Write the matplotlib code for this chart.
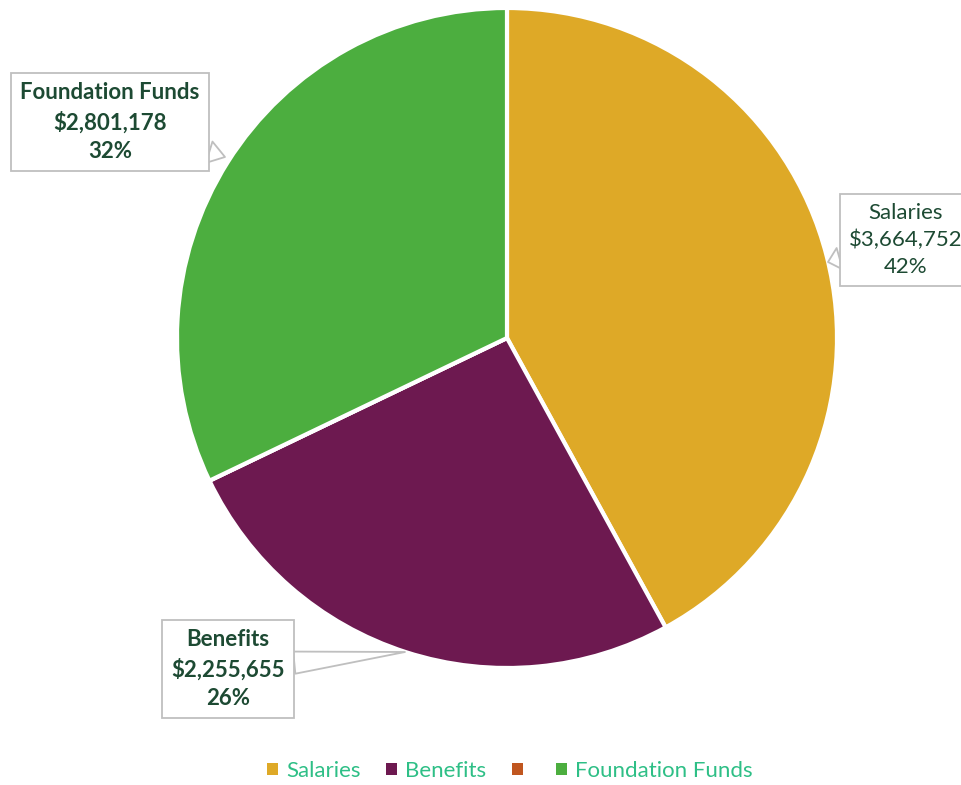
import matplotlib.pyplot as plt
from matplotlib.patches import Patch

# data
categories = ["Salaries", "Benefits", "", "Foundation Funds"]
amounts = [3664752, 2255655, 0, 2801178]
pcts = ["42%", "26%", "", "32%"]
colors = ["#DEA927", "#6D1950", "#C0561F", "#4CAE3F"]

W, H = 961, 785
plt.rcParams['font.family'] = ['Lato', 'DejaVu Sans']

fig = plt.figure(figsize=(W / 100, H / 100), dpi=100)
ax = fig.add_axes([0, 0, 1, 1])

def Y(py):
    return H - py

cx, cy, r = 507, 338, 330
ax.pie(amounts, colors=colors, startangle=90, counterclock=False,
       center=(cx, Y(cy)), radius=r, explode=[0, 0, 0, 0.02],
       wedgeprops=dict(edgecolor="white", linewidth=3))
ax.set_xlim(0, W)
ax.set_ylim(0, H)
ax.set_aspect("equal")
ax.axis("off")

txt_col = "#1D4A33"
box = dict(boxstyle="square,pad=0.4", fc="white", ec="#BFBFBF", lw=1.3)

# callouts: (text pos, tip pos, bold)
callouts = {
    "Salaries": ((906, 240), (828, 262), False),
    "Benefits": ((228, 669), (405, 652), True),
    "Foundation Funds": ((110, 122), (225, 157), True),
}
for name, amt, pct in zip(categories, amounts, pcts):
    if name not in callouts:
        continue
    (tx, ty), (px, py), bold = callouts[name]
    ax.annotate(f"{name}\n${amt:,}\n{pct}", xy=(px, Y(py)), xytext=(tx, Y(ty)),
                ha="center", va="center", fontsize=16, color=txt_col,
                fontweight="bold" if bold else "normal", linespacing=1.45,
                bbox=box,
                arrowprops=dict(arrowstyle="wedge,tail_width=1.0,shrink_factor=0.5",
                                fc="white", ec="#BFBFBF", lw=1.3,
                                shrinkA=0, shrinkB=0))

handles = [Patch(facecolor=c, edgecolor="none") for c in colors]
leg = fig.legend(handles, categories, loc="center",
                 bbox_to_anchor=(510 / W, 1 - 771 / H), ncol=4, frameon=False, fontsize=16,
                 handlelength=0.5, handleheight=0.5, handletextpad=0.35, columnspacing=1.15)
for t in leg.get_texts():
    t.set_color("#2EBF86")

fig.savefig("out.png", dpi=100)
